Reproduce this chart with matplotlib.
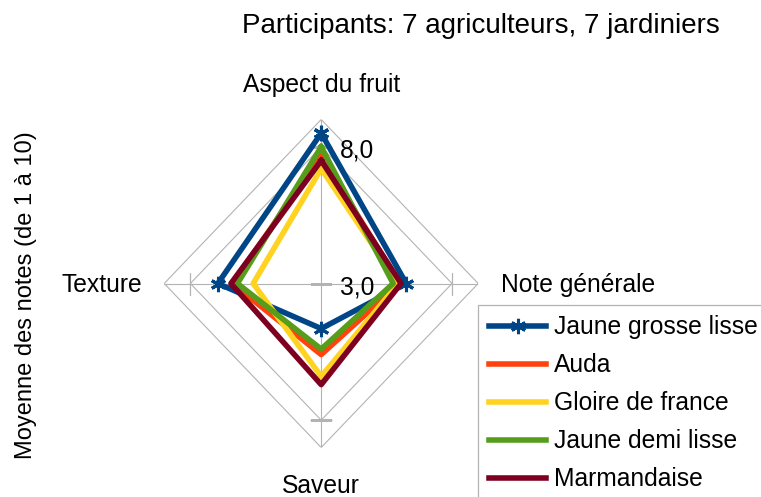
import numpy as np
import matplotlib
matplotlib.use('Agg')
import matplotlib.pyplot as plt

plt.rcParams['font.family'] = ['Liberation Sans', 'DejaVu Sans']

# Data (clockwise from the top)
categories = ['Aspect du fruit', 'Note générale', 'Saveur', 'Texture']
varieties = ['Jaune grosse lisse', 'Auda', 'Gloire de france', 'Jaune demi lisse', 'Marmandaise']
jaune_grosse_lisse = [8.5, 6.25, 4.65, 6.95]
auda = [7.65, 6.0, 5.6, 6.4]
gloire_de_france = [7.2, 5.95, 6.4, 5.6]
jaune_demi_lisse = [8.0, 5.75, 5.4, 6.2]
marmandaise = [7.5, 6.05, 6.7, 6.45]
r_min, r_max = 3.0, 9.0
r_ticks = [3.0, 8.0]

series = [jaune_grosse_lisse, auda, gloire_de_france, jaune_demi_lisse, marmandaise]
colors = ['#004586', '#ff420e', '#ffd320', '#579d1c', '#7e0021']
grid_col = '#b3b3b3'
fs = 17.7

W, H = 761, 497
fig = plt.figure(figsize=(W / 100, H / 100), dpi=100)

# polar axes, stretched a little vertically like the original
cx, cy = 321.2, 283.5
rx, ry = 157.0, 164.0
ax = fig.add_axes([(cx - rx) / W, (H - cy - ry) / H, 2 * rx / W, 2 * ry / H], polar=True)
ax.set_aspect('auto')
ax.set_theta_zero_location('N')
ax.set_theta_direction(-1)
ax.set_ylim(r_min, r_max)
ax.grid(False)
ax.spines['polar'].set_visible(False)
ax.set_xticks([])
ax.set_yticks([])
ax.patch.set_alpha(0)

n = len(categories)
angles = np.arange(n) * 2 * np.pi / n
closed = np.append(angles, angles[0])

# diamond grid + spokes
for r in [r_ticks[-1], r_max]:
    ax.plot(closed, [r] * (n + 1), color=grid_col, lw=0.8, zorder=1)
for a in angles:
    ax.plot([a, a], [r_min, r_max], color=grid_col, lw=0.8, zorder=1)

# tick marks
for a in angles:
    mk = '_' if np.isclose(np.sin(a), 0) else '|'
    ax.plot([a], [r_ticks[-1]], marker=mk, ms=16, mew=0.9, color=grid_col, zorder=1)
ax.plot([0], [r_ticks[0]], marker='_', ms=16, mew=0.9, color=grid_col, zorder=1)

# tick labels on the vertical axis
for t in r_ticks:
    ax.annotate(f'{t:.1f}'.replace('.', ','), xy=(0, t), xytext=(19, -4),
                textcoords='offset pixels', ha='left', va='center', fontsize=fs)

# series
for name, vals, c in zip(varieties, series, colors):
    v = np.append(vals, vals[0])
    if name == 'Jaune grosse lisse':
        ax.plot(closed, v, color=c, lw=4.0, marker=(6, 2, 0), ms=11, mew=2.2,
                label=name, zorder=3, clip_on=False)
    else:
        ax.plot(closed, v, color=c, lw=4.0, label=name, zorder=3, clip_on=False)

# category labels
fig.text(cx / W, 1 - 92.3 / H, categories[0], ha='center', va='baseline', fontsize=fs)
fig.text(500.7 / W, 1 - 291.7 / H, categories[1], ha='left', va='baseline', fontsize=fs)
fig.text(cx / W, 1 - 493.3 / H, categories[2], ha='center', va='baseline', fontsize=fs)
fig.text(141.7 / W, 1 - 291.7 / H, categories[3], ha='right', va='baseline', fontsize=fs)

fig.text(480.5 / W, 1 - 33.5 / H, 'Participants: 7 agriculteurs, 7 jardiniers',
         ha='center', va='baseline', fontsize=20)
fig.text(26 / W, 1 - 295 / H, 'Moyenne des notes (de 1 à 10)', rotation=90,
         ha='center', va='center', fontsize=17)

leg = fig.legend(loc='upper left', bbox_to_anchor=(478.3 / W, 1 - 305 / H),
                 bbox_transform=fig.transFigure, borderaxespad=0, fontsize=fs,
                 handlelength=2.35, handletextpad=0.3, labelspacing=0.57,
                 borderpad=0.42, fancybox=False, framealpha=1)
leg.get_frame().set_edgecolor(grid_col)
leg.get_frame().set_linewidth(0.9)

fig.savefig('out.png', dpi=100)
